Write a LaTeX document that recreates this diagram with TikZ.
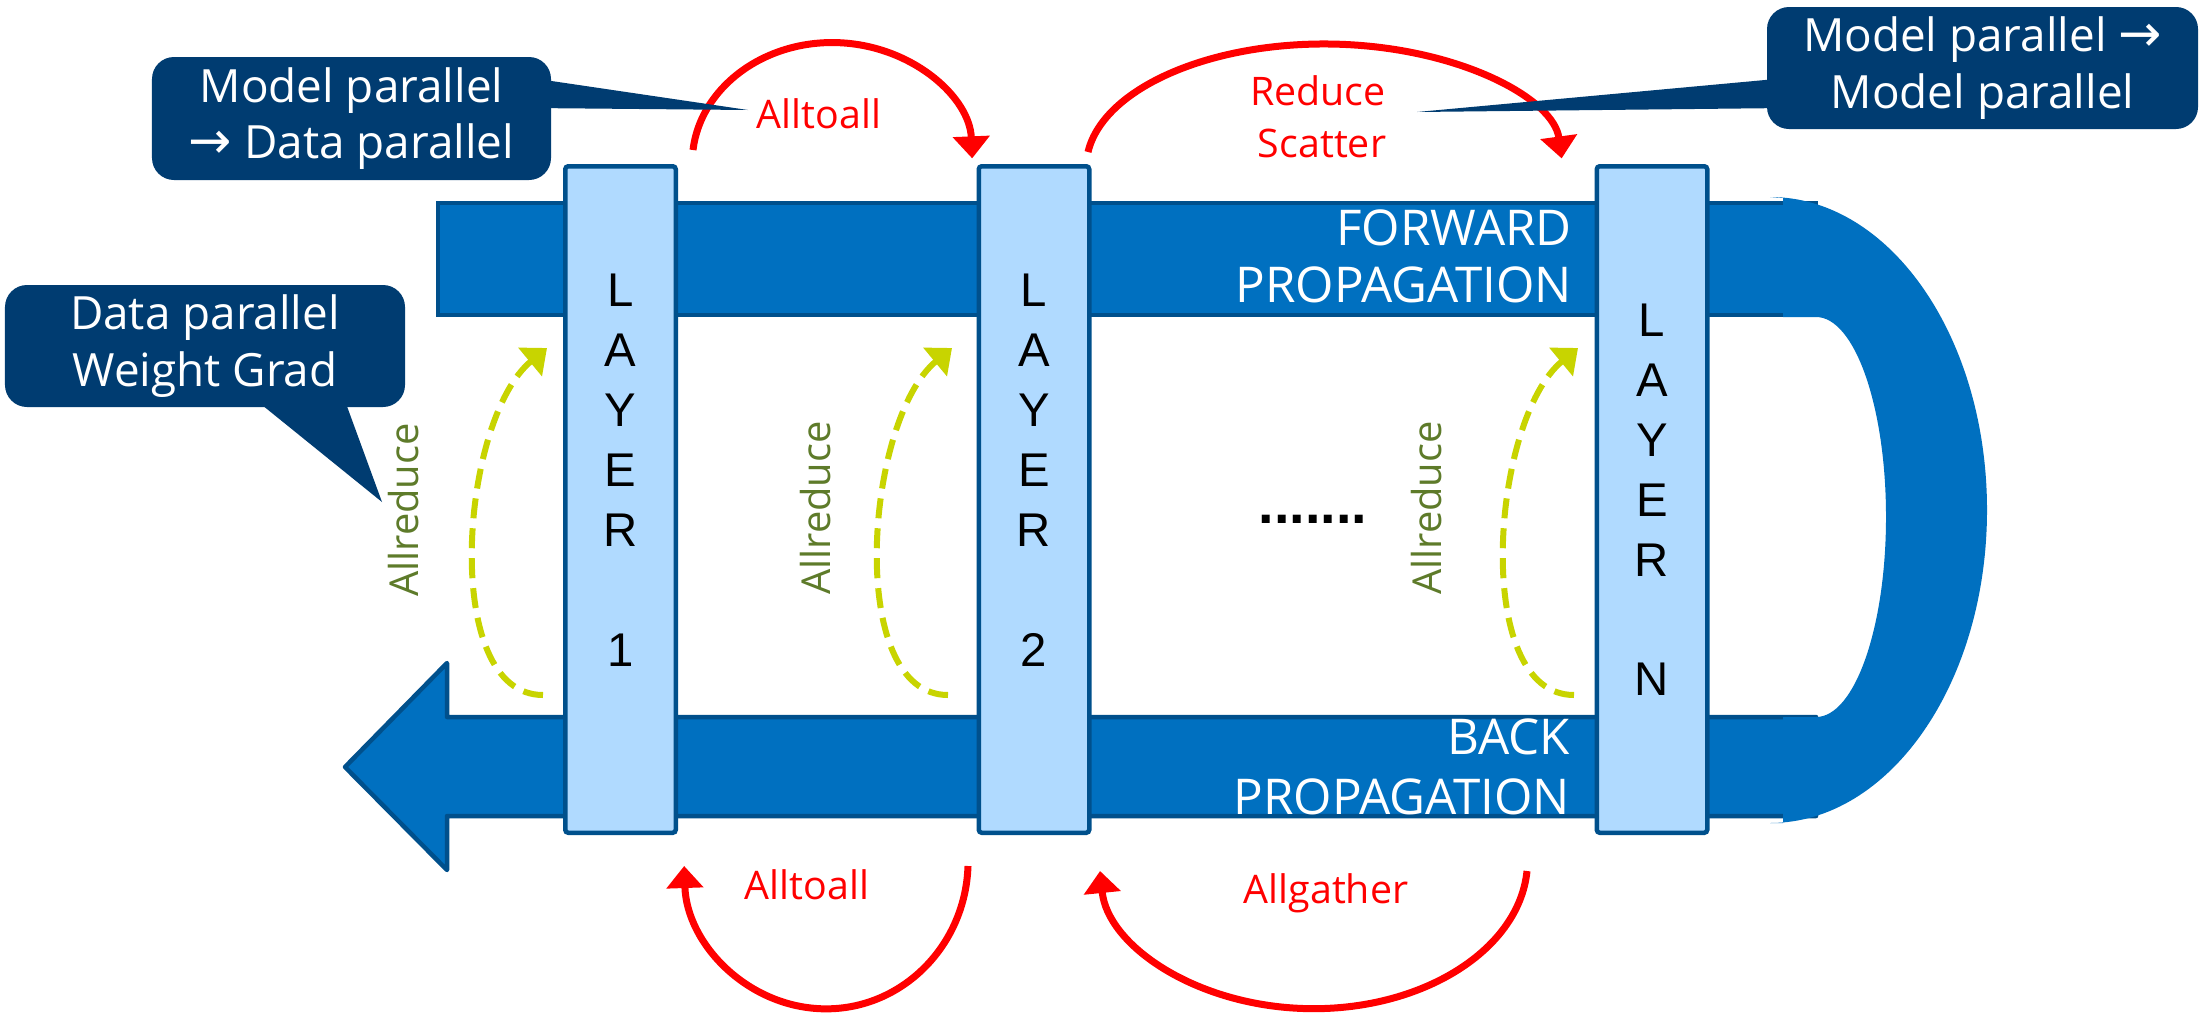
\documentclass[tikz,border=0pt]{standalone}
\usepackage{fontspec}
\setmainfont{Open Sans}
\newfontfamily\arialfont{Liberation Sans}
\newfontfamily\arrowfont{DejaVu Sans}
\usetikzlibrary{arrows.meta,calc}
\definecolor{bandblue}{HTML}{0070C0}
\definecolor{edgeblue}{HTML}{00508C}
\definecolor{layerblue}{HTML}{B0DAFF}
\definecolor{navy}{HTML}{003C71}
\definecolor{lime}{HTML}{C8D400}
\definecolor{olive}{HTML}{5E7B2A}
\newcommand{\rarr}{{\arrowfont\fontsize{52}{57}\selectfont\char"2192}}
\begin{document}
\begin{tikzpicture}[x=1bp,y=-1bp,
  every node/.style={inner sep=0pt},
  band/.style={fill=bandblue,draw=edgeblue,line width=4.5bp},
  layerbox/.style={draw=edgeblue,fill=layerblue,line width=4.5bp,rounded corners=3bp,
    minimum width=110.5bp,minimum height=666.5bp},
  layerchar/.style={font=\arialfont\fontsize{47.5}{57}\selectfont},
  bandtext/.style={text=white,font=\fontsize{49.5}{57}\selectfont,anchor=east},
  callout/.style={fill=navy,text=white,rounded corners=22bp,align=center,
    font=\fontsize{46}{57}\selectfont},
  collective/.style={text=red,font=\fontsize{39.5}{51}\selectfont},
  redarrow/.style={draw=red,line width=7bp,-{Triangle[length=22bp,width=36bp]}},
  greenarrow/.style={draw=lime,line width=6bp,dash pattern=on 20bp off 10bp,
    -{Triangle[length=22bp,width=36bp]}},
  reducetext/.style={text=olive,rotate=90,font=\fontsize{40}{48}\selectfont},
]
\useasboundingbox (0,0) rectangle (2202,1016);
\fill[white] (0,0) rectangle (2202,1016);

% forward band
\draw[band] (438,203) rectangle (1816,315);
% backward band with arrow head
\draw[band,line join=round] (1816,717) -- (447,717) -- (447,663) -- (345,767)
  -- (447,870) -- (447,816) -- (1816,816) -- cycle;
% U-turn joining the two bands
\fill[bandblue] (1783,198) -- (1770,197)
  arc[start angle=-90,end angle=90,x radius=217,y radius=313]
  -- (1783,823) -- (1783,717) -- (1816,717)
  arc[start angle=90,end angle=-90,x radius=70,y radius=200]
  -- (1783,317) -- cycle;

% layers
\node[layerbox] (layer1) at (620.5,499.5) {};
\node[layerbox] (layer2) at (1034,499.5) {};
\node[layerbox] (layerN) at (1652,499.5) {};
\foreach \ch [count=\k] in {L,A,Y,E,R} {
  \node[layerchar] (la\k) at (620.5,{290+60*(\k-1)}) {\ch};
  \node[layerchar] (lb\k) at (1034,{290+60*(\k-1)}) {\ch};
  \node[layerchar] (lc\k) at (1652,{320+60*(\k-1)}) {\ch};
}
\node[layerchar] (num1) at (620.5,650) {1};
\node[layerchar] (num2) at (1034,650) {2};
\node[layerchar] (numN) at (1652,679) {N};

% band captions
\node[bandtext] (fw1) at (1572,228) {FORWARD};
\node[bandtext] (fw2) at (1572,285) {PROPAGATION};
\node[bandtext] (bk1) at (1570,737) {BACK};
\node[bandtext] (bk2) at (1570,797) {PROPAGATION};

\node[font=\arialfont\bfseries\fontsize{56}{60}\selectfont] (dots) at (1313,519) {.......};

% allreduce arrows
\foreach \x/\n in {543/g1,948/g2,1574/g3} {
  \coordinate (\n s) at (\x,695);
  \coordinate (\n e) at ({\x+4},348);
  \draw[greenarrow] (\n s) .. controls ({\x-103},695) and ({\x-83},420) .. (\n e);
}
\node[reducetext] (ar1) at (404,510) {Allreduce};
\node[reducetext] (ar2) at (816,508) {Allreduce};
\node[reducetext] (ar3) at (1427,508) {Allreduce};

% collectives between layers
\coordinate (ra) at (693,150);
\draw[redarrow] (ra) arc[start angle=186,end angle=358,x radius=140,y radius=120];
\coordinate (rb) at (1088,152);
\draw[redarrow] (rb) arc[start angle=187,end angle=356,x radius=238,y radius=123];
\coordinate (rc) at (968,866);
\draw[redarrow] (rc) arc[start angle=2,end angle=178,x radius=142,y radius=148];
\coordinate (rd) at (1527,871);
\draw[redarrow] (rd) arc[start angle=4,end angle=176,x radius=214,y radius=148];

\node[collective,anchor=base] (t1) at (819,128) {Alltoall};
\node[collective,anchor=base] (t2a) at (1318,105) {Reduce};
\node[collective,anchor=base] (t2b) at (1322,157) {Scatter};
\node[collective,anchor=base] (t3) at (807,899) {Alltoall};
\node[collective,anchor=base] (t4) at (1326,903) {Allgather};

% callouts
\node[callout,minimum width=399bp,minimum height=123bp] (c1) at (351.5,118.5)
  {Model parallel\\\rarr{} Data parallel};
\coordinate (c1tip) at (748,110);
\fill[navy] ($(c1.east)+(-20,-40.5)$) -- (c1tip) -- ($(c1.east)+(-20,-10.5)$) -- cycle;

\node[callout,minimum width=400bp,minimum height=122bp] (c2) at (205,346)
  {Data parallel\\Weight Grad};
\coordinate (c2tip) at (382,502);
\fill[navy] ($(c2.south)+(35,-20)$) -- (c2tip) -- ($(c2.south)+(135,-20)$) -- cycle;

\node[callout,minimum width=431bp,minimum height=122bp] (c3) at (1982.5,68)
  {Model parallel \rarr\\Model parallel};
\coordinate (c3tip) at (1417,112);
\fill[navy] ($(c3.west)+(20,10)$) -- (c3tip) -- ($(c3.west)+(20,40)$) -- cycle;
\end{tikzpicture}
\end{document}
